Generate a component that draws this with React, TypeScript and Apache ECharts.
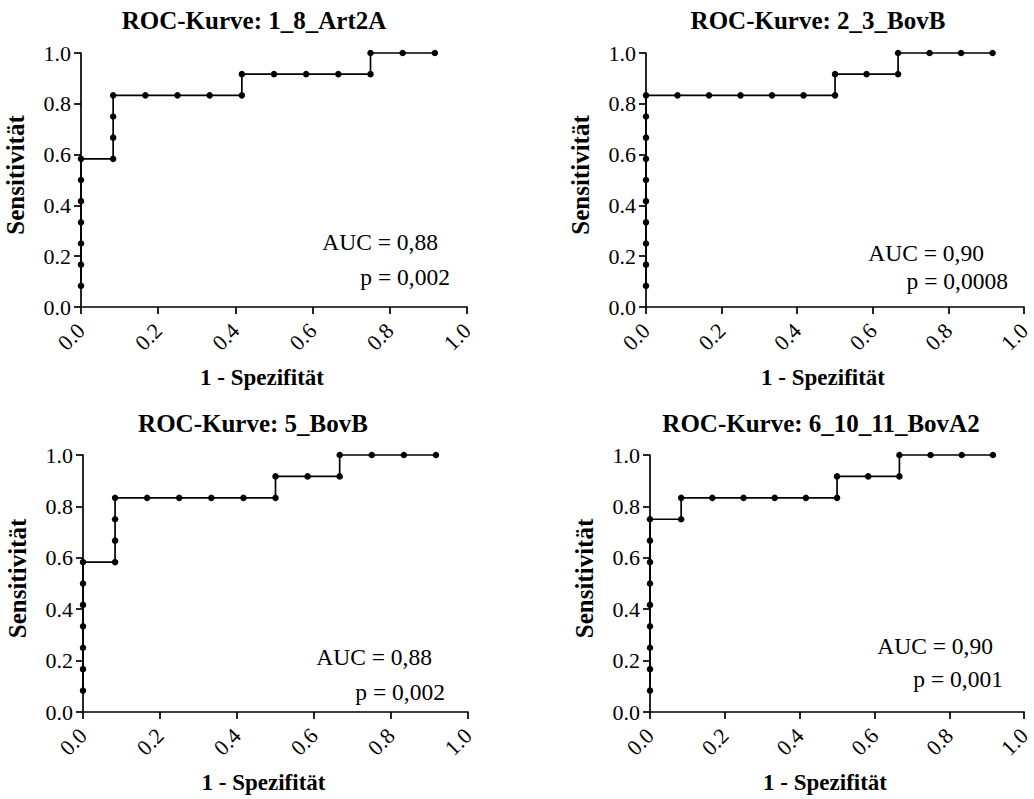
import React, { useEffect, useRef } from "react";
import * as echarts from "echarts";

const panelTitles = [
  "ROC-Kurve: 1_8_Art2A",
  "ROC-Kurve: 2_3_BovB",
  "ROC-Kurve: 5_BovB",
  "ROC-Kurve: 6_10_11_BovA2",
];
const aucTexts = ["AUC = 0,88", "AUC = 0,90", "AUC = 0,88", "AUC = 0,90"];
const pTexts = ["p = 0,002", "p = 0,0008", "p = 0,002", "p = 0,001"];

// 1 - Spezifität (x) and Sensitivität (y) per panel
const fpr1 = [0, 0, 0, 0, 0, 0, 0, 0.0833, 0.0833, 0.0833, 0.0833, 0.1667, 0.25, 0.3333, 0.4167, 0.4167, 0.5, 0.5833, 0.6667, 0.75, 0.75, 0.8333, 0.9167];
const tpr1 = [0.0833, 0.1667, 0.25, 0.3333, 0.4167, 0.5, 0.5833, 0.5833, 0.6667, 0.75, 0.8333, 0.8333, 0.8333, 0.8333, 0.8333, 0.9167, 0.9167, 0.9167, 0.9167, 0.9167, 1, 1, 1];

const fpr2 = [0, 0, 0, 0, 0, 0, 0, 0, 0, 0, 0.0833, 0.1667, 0.25, 0.3333, 0.4167, 0.5, 0.5, 0.5833, 0.6667, 0.6667, 0.75, 0.8333, 0.9167];
const tpr2 = [0.0833, 0.1667, 0.25, 0.3333, 0.4167, 0.5, 0.5833, 0.6667, 0.75, 0.8333, 0.8333, 0.8333, 0.8333, 0.8333, 0.8333, 0.8333, 0.9167, 0.9167, 0.9167, 1, 1, 1, 1];

const fpr3 = [0, 0, 0, 0, 0, 0, 0, 0.0833, 0.0833, 0.0833, 0.0833, 0.1667, 0.25, 0.3333, 0.4167, 0.5, 0.5, 0.5833, 0.6667, 0.6667, 0.75, 0.8333, 0.9167];
const tpr3 = [0.0833, 0.1667, 0.25, 0.3333, 0.4167, 0.5, 0.5833, 0.5833, 0.6667, 0.75, 0.8333, 0.8333, 0.8333, 0.8333, 0.8333, 0.8333, 0.9167, 0.9167, 0.9167, 1, 1, 1, 1];

const fpr4 = [0, 0, 0, 0, 0, 0, 0, 0, 0, 0.0833, 0.0833, 0.1667, 0.25, 0.3333, 0.4167, 0.5, 0.5, 0.5833, 0.6667, 0.6667, 0.75, 0.8333, 0.9167];
const tpr4 = [0.0833, 0.1667, 0.25, 0.3333, 0.4167, 0.5, 0.5833, 0.6667, 0.75, 0.75, 0.8333, 0.8333, 0.8333, 0.8333, 0.8333, 0.8333, 0.9167, 0.9167, 0.9167, 1, 1, 1, 1];

const fprs = [fpr1, fpr2, fpr3, fpr4];
const tprs = [tpr1, tpr2, tpr3, tpr4];

const xAxisName = "1 - Spezifität";
const yAxisName = "Sensitivität";

// layout
const grids = [
  { left: 81, top: 53, width: 386, height: 254 },
  { left: 646, top: 53, width: 386, height: 254 },
  { left: 83, top: 455, width: 385, height: 257 },
  { left: 650, top: 455, width: 385, height: 257 },
];
const titlePos = [
  { x: 254, y: 20 },
  { x: 818, y: 20 },
  { x: 253, y: 423 },
  { x: 821, y: 423 },
];
const aucPos = [
  { x: 438, y: 242, px: 450, py: 277 },
  { x: 984, y: 253, px: 1008, py: 281 },
  { x: 432, y: 657, px: 445, py: 692 },
  { x: 993, y: 646, px: 1003, py: 679 },
];

const FONT = "Liberation Serif, Times New Roman, serif";

export default function App() {
  const ref = useRef<HTMLDivElement>(null);
  useEffect(() => {
    if (!ref.current) return;
    const chart = echarts.init(ref.current, null, { renderer: "svg" });
    const axisCommon = {
      type: "value" as const,
      min: 0,
      max: 1,
      interval: 0.2,
      splitLine: { show: false },
      axisLine: { show: true, lineStyle: { color: "#000", width: 1.7 } },
      axisTick: { show: true, length: 7, lineStyle: { color: "#000", width: 1.7 } },
    };
    const graphics: any[] = [];
    panelTitles.forEach((t, i) => {
      graphics.push({
        type: "text",
        x: titlePos[i].x,
        y: titlePos[i].y,
        style: {
          text: t,
          fill: "#000",
          fontFamily: FONT,
          fontWeight: "bold",
          fontSize: 25,
          textAlign: "center",
          textVerticalAlign: "middle",
        },
      });
      graphics.push({
        type: "text",
        x: aucPos[i].x,
        y: aucPos[i].y,
        style: {
          text: aucTexts[i],
          fill: "#000",
          fontFamily: FONT,
          fontSize: 23.5,
          textAlign: "right",
          textVerticalAlign: "middle",
        },
      });
      graphics.push({
        type: "text",
        x: aucPos[i].px,
        y: aucPos[i].py,
        style: {
          text: pTexts[i],
          fill: "#000",
          fontFamily: FONT,
          fontSize: 23.5,
          textAlign: "right",
          textVerticalAlign: "middle",
        },
      });
    });
    chart.setOption({
      animation: false,
      backgroundColor: "#fff",
      textStyle: { fontFamily: FONT },
      grid: grids.map((g) => ({ ...g, containLabel: false })),
      xAxis: grids.map((_, i) => ({
        ...axisCommon,
        gridIndex: i,
        name: xAxisName,
        nameLocation: "middle",
        nameGap: 59,
        nameTextStyle: {
          fontFamily: FONT,
          fontWeight: "bold",
          fontSize: 23,
          color: "#000",
          padding: [0, 24, 0, 0],
        },
        axisLabel: {
          rotate: 45,
          margin: 20,
          fontFamily: FONT,
          fontSize: 22,
          color: "#000",
          formatter: (v: number) => v.toFixed(1),
        },
      })),
      yAxis: grids.map((_, i) => ({
        ...axisCommon,
        gridIndex: i,
        name: yAxisName,
        nameLocation: "middle",
        nameGap: 53,
        nameTextStyle: {
          fontFamily: FONT,
          fontWeight: "bold",
          fontSize: 25,
          color: "#000",
          padding: [0, 0, 0, 10],
        },
        axisLabel: {
          margin: 10,
          fontFamily: FONT,
          fontSize: 22,
          color: "#000",
          formatter: (v: number) => v.toFixed(1),
        },
      })),
      series: fprs.map((xs, i) => ({
        type: "line",
        xAxisIndex: i,
        yAxisIndex: i,
        data: xs.map((x, j) => [x, tprs[i][j]]),
        symbol: "circle",
        symbolSize: 6.5,
        showSymbol: true,
        itemStyle: { color: "#000" },
        lineStyle: { color: "#000", width: 1.7 },
        clip: false,
      })),
      graphic: graphics,
    });
    return () => chart.dispose();
  }, []);
  return (
    <div
      ref={ref}
      style={{ position: "absolute", left: 0, top: 0, width: 1034, height: 799 }}
    />
  );
}
